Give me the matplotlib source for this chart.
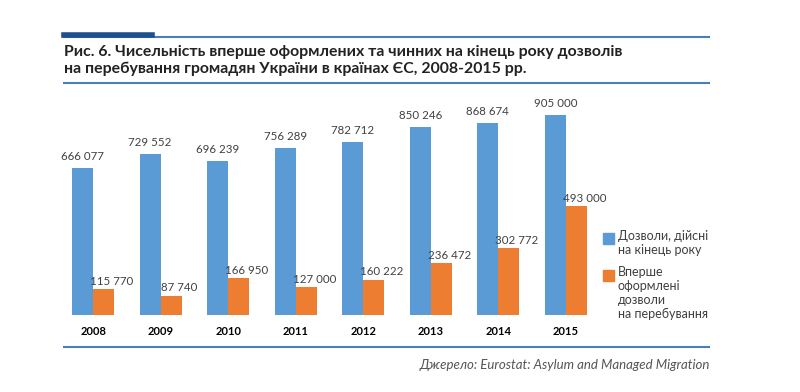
import matplotlib.pyplot as plt
from matplotlib.patches import Rectangle
from matplotlib.lines import Line2D

years = ["2008", "2009", "2010", "2011", "2012", "2013", "2014", "2015"]
valid = [666077, 729552, 696239, 756289, 782712, 850246, 868674, 905000]
first = [115770, 87740, 166950, 127000, 160222, 236472, 302772, 493000]

blue = "#5B9BD5"
orange = "#ED7D31"
line_c = "#4A7EBB"

plt.rcParams["font.family"] = ["Lato", "DejaVu Sans"]

fig = plt.figure(figsize=(8, 3.92), dpi=100)
ax = fig.add_axes([52.5 / 800, 1 - 315 / 392, 554 / 800, 221 / 392])

x = list(range(len(years)))
w = 0.31
ax.bar([i - w / 2 for i in x], valid, width=w, color=blue)
ax.bar([i + w / 2 for i in x], first, width=w, color=orange)

def fmt(v):
    return f"{v:,}".replace(",", " ")

for i in x:
    ax.text(i - w / 2, valid[i] + 28000, fmt(valid[i]), ha="center", va="bottom",
            fontsize=8.3, color="#404040")
    ax.text(i + w / 2 + 0.12, first[i] + 10000, fmt(first[i]), ha="center", va="bottom",
            fontsize=8.3, color="#404040")

ax.set_xlim(-0.6, 7.6)
ax.set_ylim(0, 1000000)
ax.set_xticks(x)
ax.set_xticklabels(years, fontweight="bold", fontsize=8)
ax.tick_params(length=0, pad=8, left=False, labelleft=False)
for s in ax.spines.values():
    s.set_visible(False)

# decorative rules
fig.add_artist(Line2D([64 / 800, 709 / 800], [1 - 36.5 / 392] * 2, color=line_c, lw=1.5))
fig.add_artist(Line2D([64 / 800, 152 / 800], [1 - 35 / 392] * 2, color="#1F4E8C", lw=4))
fig.add_artist(Line2D([64 / 800, 709 / 800], [1 - 83 / 392] * 2, color=line_c, lw=1.5))
fig.add_artist(Line2D([64 / 800, 709 / 800], [1 - 347 / 392] * 2, color=line_c, lw=1.5))

fig.text(64 / 800, 1 - 60.5 / 392,
         "Рис. 6. Чисельність вперше оформлених та чинних на кінець року дозволів\n"
         "на перебування громадян України в країнах ЄС, 2008-2015 рр.",
         fontsize=11.4, fontweight="bold", color="#222222", va="center", linespacing=1.15)

fig.text(710 / 800, 1 - 365 / 392, "Джерело: Eurostat: Asylum and Managed Migration",
         fontsize=9.5, style="italic", color="#555555", ha="right", va="center")

# legend
fig.add_artist(Rectangle((603 / 800, 1 - 244 / 392), 11 / 800, 11 / 392, color=blue))
fig.text(618 / 800, 1 - 230 / 392, "Дозволи, дійсні\nна кінець року", fontsize=9,
         color="#404040", va="top", linespacing=1.2)
fig.add_artist(Rectangle((603 / 800, 1 - 281 / 392), 11 / 800, 11 / 392, color=orange))
fig.text(618 / 800, 1 - 266 / 392, "Вперше\nоформлені\nдозволи\nна перебування", fontsize=9,
         color="#404040", va="top", linespacing=1.2)

fig.savefig("out.png", dpi=100)
